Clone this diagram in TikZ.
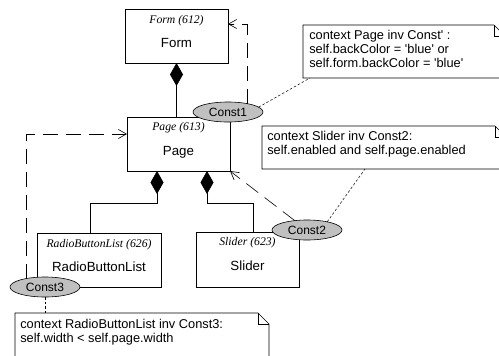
\documentclass[tikz,border=0pt]{standalone}
\usepackage{fontspec}
\setmainfont{Liberation Sans}
\newfontfamily\hdrfont{Liberation Serif}
\usetikzlibrary{arrows.meta,shapes.geometric}
\definecolor{cstfill}{HTML}{C0C0C0}
\newcommand\sq{\textquotesingle}
\tikzset{
  cls/.style={draw, rectangle, inner sep=0pt, outer sep=0pt, fill=white},
  hdr/.style={inner sep=0pt, font=\hdrfont\itshape\fontsize{11.7}{13}\selectfont},
  nm/.style={inner sep=0pt, font=\fontsize{13.3}{15}\selectfont},
  cst/.style={ellipse, draw, fill=cstfill, minimum width=70pt, minimum height=20pt,
              inner sep=0pt, outer sep=0pt, font=\fontsize{12}{14}\selectfont},
  notebox/.style={rectangle, inner sep=0pt, outer sep=0pt},
  notetext/.style={anchor=north west, inner sep=0pt, align=left,
                   font=\fontsize{12.8}{13.8}\selectfont},
  comp/.style={{Diamond[length=23pt,width=13pt]}-},
  dep/.style={-{Straight Barb[length=8pt,width=9pt]}, dash pattern=on 15pt off 8pt},
  anch/.style={line width=0.5pt, dash pattern=on 2.5pt off 2pt},
}
\begin{document}
\begin{tikzpicture}[x=1pt,y=-1pt,line width=0.6pt]
\clip (0,0) rectangle (499,356);

% classes
\node[cls, minimum width=103pt, minimum height=54pt] (form) at (176.5,36) {};
\node[hdr] (formh) at ([yshift=-12pt]form.north) {Form (612)};
\node[nm]  (formn) at ([yshift=-34pt]form.north) {Form};

\node[cls, minimum width=103pt, minimum height=54pt] (page) at (178.5,144) {};
\node[hdr] (pageh) at ([yshift=-11pt]page.north) {Page (613)};
\node[nm]  (pagen) at ([yshift=-35pt]page.north) {Page};

\node[cls, minimum width=124pt, minimum height=54pt] (rbl) at (99,260) {};
\node[hdr] (rblh) at ([yshift=-12pt]rbl.north) {RadioButtonList (626)};
\node[nm]  (rbln) at ([yshift=-34pt]rbl.north) {RadioButtonList};

\node[cls, minimum width=103pt, minimum height=55pt] (slider) at (247.5,259.5) {};
\node[hdr] (sliderh) at ([yshift=-11pt]slider.north) {Slider (623)};
\node[nm]  (slidern) at ([yshift=-34pt]slider.north) {Slider};

% compositions
\draw[comp] (form.south) -- (form.south |- page.north);
\draw[comp] ([xshift=-21.5pt]page.south) -- ++(0,32) -| ([xshift=-9pt]rbl.north);
\draw[comp] ([xshift=28.5pt]page.south) -- ++(0,32) -| ([xshift=5.5pt]slider.north);

% notes
\node[notebox, minimum width=202pt, minimum height=53pt] (n1) at (404,51.5) {};
\node[notebox, minimum width=244pt, minimum height=43pt] (n2) at (384,147.5) {};
\node[notebox, minimum width=254pt, minimum height=57pt] (n3) at (142,341.5) {};
\foreach \n in {n1,n2,n3}{
  \draw[fill=white] (\n.south west) -- (\n.north west) -- ([xshift=-11pt]\n.north east)
    -- ([yshift=-11pt]\n.north east) -- (\n.south east) -- cycle;
  \draw ([xshift=-11pt]\n.north east) -- ([xshift=-11pt,yshift=-11pt]\n.north east)
    -- ([yshift=-11pt]\n.north east);
}
\node[notetext] (n1t) at ([xshift=6pt,yshift=-5pt]n1.north west)
  {context Page inv Const\sq\ :\\self.backColor = \sq blue\sq\ or\\self.form.backColor = \sq blue\sq};
\node[notetext] (n2t) at ([xshift=5pt,yshift=-5pt]n2.north west)
  {context Slider inv Const2:\\self.enabled and self.page.enabled};
\node[notetext] (n3t) at ([xshift=5pt,yshift=-6pt]n3.north west)
  {context RadioButtonList inv Const3:\\self.width < self.page.width};

% constraints
\node[cst] (c1) at (228,112) {Const1};
\node[cst] (c2) at (307,230) {Const2};
\node[cst] (c3) at (45,287) {Const3};

% constraint dependencies
\draw[dep] (c1.24) |- ([yshift=12pt]form.east);
\draw[dep] (c3.156) |- ([yshift=10pt]page.west);
\draw[dep] (c2) -- (page.south east);

% note anchors
\draw[anch] (c1.9) -- ([xshift=7pt]n1.south west);
\draw[anch] (c2.22) -- ([xshift=103pt]n2.south west);
\draw[anch] (c3) -- (c3 |- n3.north);
\end{tikzpicture}
\end{document}
